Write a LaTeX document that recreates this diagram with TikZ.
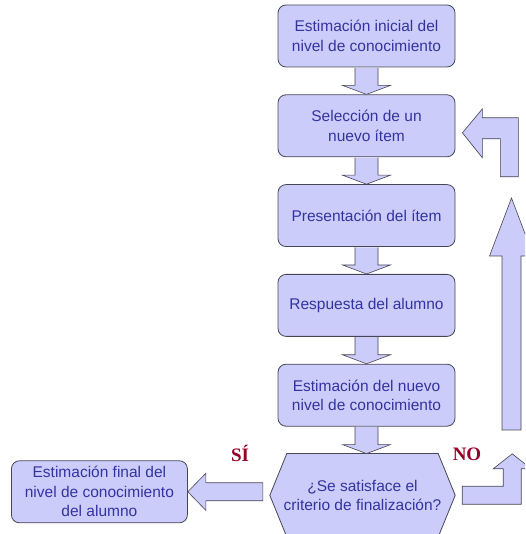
\documentclass[tikz,border=0pt]{standalone}
\usepackage{fontspec}
\setmainfont{Liberation Sans}
\newfontfamily\serifbold{Liberation Serif}
\usetikzlibrary{positioning,calc,backgrounds}

\definecolor{lila}{RGB}{204,204,250}
\definecolor{tinta}{RGB}{51,51,160}
\definecolor{borde}{RGB}{70,70,85}
\definecolor{granate}{RGB}{150,0,40}

\tikzset{
caja/.style={draw=borde, fill=lila, rounded corners=8pt, line width=0.8pt,
  minimum width=177pt, minimum height=62pt, inner sep=0pt, align=center,
  text=tinta, font=\fontsize{15.5}{19.5}\selectfont},
pregunta/.style={minimum width=185pt, minimum height=83pt, inner sep=0pt,
  align=center, text=tinta, font=\fontsize{15.5}{19}\selectfont},
flecha/.style={draw=borde, fill=lila, line width=0.6pt, line join=miter},
rotulo/.style={text=granate, font=\serifbold\bfseries\fontsize{19}{19}\selectfont}
}

% flecha gruesa hacia abajo entre dos cajas
\newcommand{\flechabajo}[2]{%
\coordinate (punta) at (#1.south |- #2.north);
\draw[flecha] ($(#1.south)+(-11.5,-0.4)$) -- ($(punta)+(-11.5,9)$) -- ($(punta)+(-24,9)$)
  -- (punta) -- ($(punta)+(24,9)$) -- ($(punta)+(11.5,9)$) -- ($(#1.south)+(11.5,-0.4)$);}

\begin{document}
\begin{tikzpicture}[x=1pt,y=1pt]
\clip (0,0) rectangle (525,534);

\node[caja](ini) at (366.5,498) {Estimación inicial del\\nivel de conocimiento};
\node[caja, below=27pt of ini](sel) {Selección de un\\nuevo ítem};
\node[caja, below=27pt of sel](pres) {Presentación del ítem};
\node[caja, below=27pt of pres](resp) {Respuesta del alumno};
\node[caja, below=27pt of resp](nuevo) {Estimación del nuevo\\nivel de conocimiento};
\node[pregunta, below=27pt of nuevo, xshift=-4pt](crit) {¿Se satisface el\\criterio de finalización?};
\node[caja, left=82pt of crit, yshift=3.5pt, minimum width=176pt](final) {Estimación final del\\nivel de conocimiento\\del alumno};

\begin{scope}[on background layer]
\draw[flecha, line width=0.8pt] (crit.west) -- ($(crit.north west)+(17,0)$) -- ($(crit.north east)+(-17,0)$)
  -- (crit.east) -- ($(crit.south east)+(-17,0)$) -- ($(crit.south west)+(17,0)$) -- cycle;
\end{scope}

\flechabajo{ini}{sel}
\flechabajo{sel}{pres}
\flechabajo{pres}{resp}
\flechabajo{resp}{nuevo}
\flechabajo{nuevo}{crit}

% SI
\draw[flecha] (final.east) -- ++(18,18.5) -- ++(0,-9.5) -- ++(57,0) -- ++(0,-18)
  -- ++(-57,0) -- ++(0,-9.5) -- cycle;
\node[rotulo](si) at (240,81) {SÍ};

% NO
\coordinate (salida) at ($(crit.east)+(7,9)$);
\draw[flecha] (salida) -- ++(41,0) -- ++(0,17.5) -- ++(-10,0) -- ++(19,15) -- ++(19,-15)
  -- ++(-10,0) -- ++(0,-35.5) -- ++(-59,0) -- cycle;
\node[rotulo](no) at (467,80) {NO};

\coordinate (subida) at (511.5,104);
\draw[flecha] (subida) ++(-9.5,0) -- ++(0,174) -- ++(-12.5,0) -- ++(22,58) -- ++(22,-58)
  -- ++(-12.5,0) -- ++(0,-174) -- cycle;

\coordinate (vuelta) at ($(sel.east)+(7,-7)$);
\draw[flecha] (vuelta) -- ++(20,24) -- ++(0,-9) -- ++(36,0) -- ++(0,-59) -- ++(-18,0)
  -- ++(0,38) -- ++(-18,0) -- ++(0,-19) -- cycle;
\end{tikzpicture}
\end{document}
